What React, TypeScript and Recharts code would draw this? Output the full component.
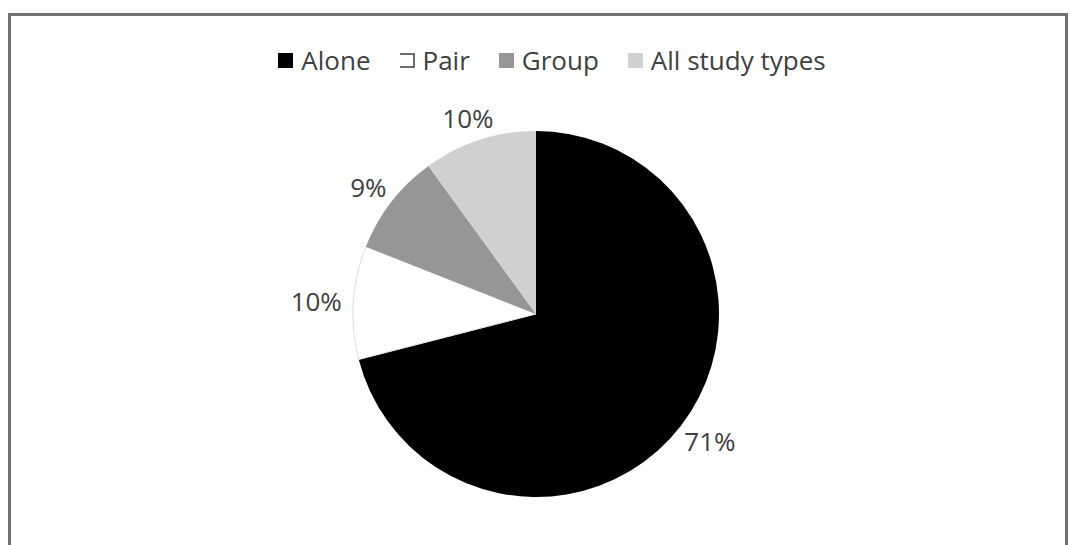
import { Cell, Legend, Pie, PieChart } from "recharts";

const categories = ["Alone", "Pair", "Group", "All study types"];
const shares = [71, 10, 9, 10];

const sliceColors = ["#000000", "#ffffff", "#969696", "#d0d0d0"];
const textColor = "#404040";
const font = "'Open Sans', sans-serif";
const fontSize = 26;

const pieData = categories.map((name, i) => ({ name, value: shares[i] }));

const RAD = Math.PI / 180;

function renderLabel(props: any) {
  const { cx, cy, midAngle, outerRadius, value } = props;
  const text = `${value}%`;
  const w = text.length * fontSize * 0.62;
  const h = fontSize * 0.8;
  const dx = Math.cos(-midAngle * RAD);
  const dy = Math.sin(-midAngle * RAD);
  const r = outerRadius + 13;
  const x = cx + r * dx + (dx * w) / 2;
  const y = cy + r * dy + (dy * h) / 2;
  return (
    <text
      x={x}
      y={y}
      fill={textColor}
      fontFamily={font}
      fontSize={fontSize}
      textAnchor="middle"
      dominantBaseline="central"
    >
      {text}
    </text>
  );
}

function LegendIcon({ index }: { index: number }) {
  if (index === 1) {
    // the white slice shows up as an open box in the legend
    return (
      <svg width={15} height={15} style={{ display: "block" }}>
        <path d="M0,1 H14 V14 H0" fill="none" stroke="#404040" strokeWidth={1.5} />
      </svg>
    );
  }
  return (
    <svg width={15} height={15} style={{ display: "block" }}>
      <rect x={0} y={0} width={15} height={15} fill={sliceColors[index]} />
    </svg>
  );
}

function renderLegend() {
  return (
    <div
      style={{
        display: "flex",
        justifyContent: "center",
        alignItems: "center",
        paddingLeft: 28,
        fontFamily: font,
        fontSize,
        color: textColor,
      }}
    >
      {categories.map((name, i) => (
        <div
          key={name}
          style={{
            display: "flex",
            alignItems: "center",
            marginRight: i < categories.length - 1 ? 29 : 0,
          }}
        >
          <LegendIcon index={i} />
          <span style={{ marginLeft: 8, lineHeight: "30px" }}>{name}</span>
        </div>
      ))}
    </div>
  );
}

export default function App() {
  return (
    <div
      style={{
        position: "absolute",
        left: 8,
        top: 13,
        width: 1060,
        height: 560,
        border: "3px solid #707070",
        boxSizing: "border-box",
        background: "#fff",
      }}
    >
      <PieChart width={1054} height={540}>
        <Legend
          verticalAlign="top"
          align="center"
          content={renderLegend}
          wrapperStyle={{ top: 29, left: 0, width: 1054 }}
        />
        <Pie
          data={pieData}
          dataKey="value"
          nameKey="name"
          cx={520}
          cy={263}
          outerRadius={183}
          startAngle={90}
          endAngle={-270}
          stroke="none"
          label={renderLabel}
          labelLine={false}
          isAnimationActive={false}
        >
          {pieData.map((d, i) => (
            <Cell
              key={d.name}
              fill={sliceColors[i]}
              stroke={i === 1 ? "#dddddd" : "none"}
              strokeWidth={1}
            />
          ))}
        </Pie>
      </PieChart>
    </div>
  );
}
